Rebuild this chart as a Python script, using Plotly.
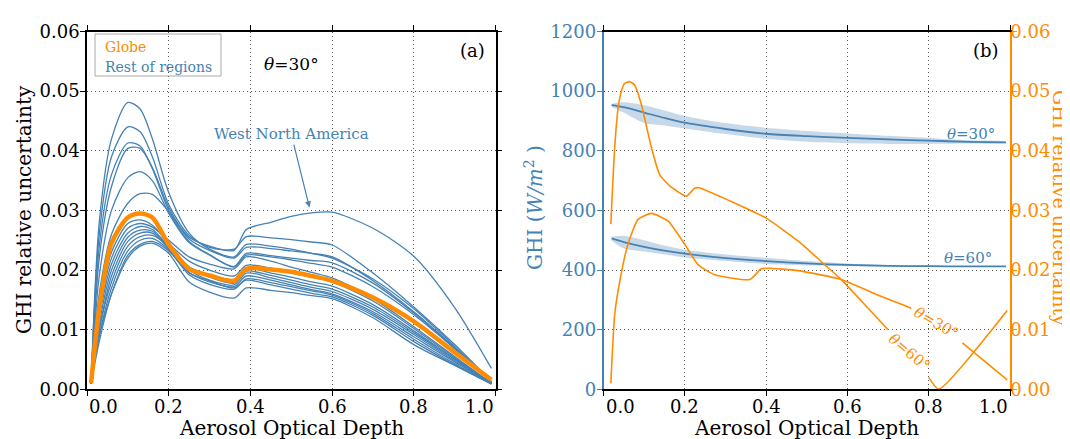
import plotly.graph_objects as go

# ---------------- data ----------------
# Panel (a): GHI relative uncertainty vs AOD, theta = 30 deg
aod_a = [0.01, 0.03, 0.06, 0.1, 0.13, 0.16, 0.2, 0.25, 0.3, 0.36, 0.39, 0.45, 0.5, 0.55, 0.6, 0.7, 0.8, 0.9, 0.99]

globe_unc = [0.001, 0.0135, 0.0245, 0.0288, 0.0295, 0.0288, 0.0243, 0.0202, 0.0191, 0.0182, 0.0202, 0.0201,
             0.0197, 0.0190, 0.0182, 0.0154, 0.0114, 0.0062, 0.0016]

region_b1 = [0.001, 0.028, 0.042, 0.0481, 0.0470, 0.0420, 0.0330, 0.0262, 0.0235, 0.0222, 0.0243, 0.0240,
             0.0235, 0.0228, 0.0220, 0.0185, 0.0135, 0.0072, 0.0012]
region_b2 = [0.001, 0.026, 0.039, 0.0440, 0.0432, 0.0390, 0.0310, 0.0258, 0.0238, 0.0235, 0.0256, 0.0254,
             0.0251, 0.0247, 0.0242, 0.0195, 0.0138, 0.0075, 0.0013]
region_b3 = [0.001, 0.024, 0.036, 0.0413, 0.0408, 0.0370, 0.0300, 0.0248, 0.0226, 0.0205, 0.0225, 0.0222,
             0.0217, 0.0211, 0.0205, 0.0172, 0.0125, 0.0068, 0.0012]
region_b4 = [0.001, 0.022, 0.034, 0.0404, 0.0404, 0.0372, 0.0305, 0.0252, 0.0233, 0.0220, 0.0238, 0.0236,
             0.0232, 0.0228, 0.0222, 0.0182, 0.0130, 0.0070, 0.0012]
region_b5 = [0.001, 0.019, 0.030, 0.0355, 0.0365, 0.0350, 0.0295, 0.0246, 0.0225, 0.0206, 0.0228, 0.0224,
             0.0220, 0.0216, 0.0212, 0.0178, 0.0128, 0.0069, 0.0012]
region_wna = [0.001, 0.016, 0.026, 0.0312, 0.0328, 0.0327, 0.0298, 0.0255, 0.0240, 0.0233, 0.0268, 0.0280,
              0.0290, 0.0296, 0.0297, 0.0270, 0.0223, 0.0137, 0.0035]
region_l1 = [0.001, 0.014, 0.023, 0.0278, 0.0284, 0.0275, 0.0245, 0.0215, 0.0200, 0.0190, 0.0208, 0.0203,
             0.0195, 0.0188, 0.0180, 0.0148, 0.0102, 0.0053, 0.0010]
region_l2 = [0.001, 0.013, 0.022, 0.0270, 0.0278, 0.0272, 0.0250, 0.0222, 0.0210, 0.0202, 0.0222, 0.0215,
             0.0205, 0.0196, 0.0187, 0.0152, 0.0105, 0.0055, 0.0010]
region_l3 = [0.001, 0.012, 0.021, 0.0262, 0.0273, 0.0268, 0.0240, 0.0205, 0.0188, 0.0178, 0.0198, 0.0191,
             0.0183, 0.0175, 0.0168, 0.0138, 0.0095, 0.0050, 0.0010]
region_l4 = [0.001, 0.011, 0.020, 0.0255, 0.0267, 0.0265, 0.0238, 0.0200, 0.0183, 0.0175, 0.0195, 0.0187,
             0.0179, 0.0171, 0.0164, 0.0134, 0.0092, 0.0048, 0.0010]
region_l5 = [0.001, 0.010, 0.019, 0.0248, 0.0262, 0.0262, 0.0236, 0.0196, 0.0180, 0.0172, 0.0190, 0.0183,
             0.0175, 0.0167, 0.0160, 0.0130, 0.0088, 0.0046, 0.0010]
region_l6 = [0.001, 0.010, 0.018, 0.0240, 0.0256, 0.0258, 0.0240, 0.0205, 0.0192, 0.0184, 0.0203, 0.0195,
             0.0188, 0.0180, 0.0173, 0.0142, 0.0098, 0.0051, 0.0010]
region_l7 = [0.001, 0.009, 0.017, 0.0232, 0.0250, 0.0253, 0.0234, 0.0192, 0.0176, 0.0168, 0.0185, 0.0179,
             0.0172, 0.0165, 0.0158, 0.0127, 0.0084, 0.0043, 0.0009]
region_l8 = [0.001, 0.009, 0.016, 0.0225, 0.0243, 0.0248, 0.0232, 0.0195, 0.0182, 0.0170, 0.0183, 0.0175,
             0.0168, 0.0161, 0.0155, 0.0124, 0.0080, 0.0041, 0.0009]
region_l9 = [0.001, 0.008, 0.016, 0.0220, 0.0240, 0.0245, 0.0228, 0.0180, 0.0163, 0.0153, 0.0170, 0.0166,
             0.0162, 0.0157, 0.0152, 0.0120, 0.0075, 0.0040, 0.0009]

regions = [region_b1, region_b2, region_b3, region_b4, region_b5, region_wna,
           region_l1, region_l2, region_l3, region_l4, region_l5, region_l6, region_l7, region_l8, region_l9]

# Panel (b): GHI (W/m2) with uncertainty band, and relative uncertainty
aod_b = [0.02, 0.05, 0.1, 0.15, 0.2, 0.3, 0.4, 0.5, 0.6, 0.7, 0.8, 0.9, 0.99]
ghi_30 = [953, 946, 928, 910, 894, 873, 857, 849, 843, 838, 834, 830, 828]
ghi_30_hi = [958, 963, 953, 935, 917, 893, 877, 866, 858, 850, 843, 835, 830]
ghi_30_lo = [948, 928, 893, 885, 875, 856, 840, 830, 825, 823, 823, 824, 826]
ghi_60 = [506, 494, 478, 465, 455, 440, 430, 422, 417, 414, 413, 412, 412]
ghi_60_hi = [512, 515, 500, 482, 468, 452, 441, 430, 422, 417, 414, 413, 412]
ghi_60_lo = [498, 472, 462, 452, 442, 430, 420, 415, 413, 412, 412, 411, 411]

aod_unc60 = [0.018, 0.0275, 0.036, 0.044, 0.052, 0.064, 0.077, 0.093, 0.118, 0.138, 0.163, 0.204, 0.224,
             0.235, 0.314, 0.40, 0.48, 0.544, 0.585, 0.651, 0.700, 0.75, 0.80, 0.825, 0.993]
unc_60 = [0.0277, 0.0405, 0.0472, 0.0500, 0.0513, 0.0516, 0.0510, 0.0478, 0.0405, 0.0360, 0.0341, 0.0324,
          0.0337, 0.0338, 0.0315, 0.0287, 0.0248, 0.0209, 0.0184, 0.0136, 0.0100, None, 0.0020, 0.0000, 0.0132]

aod_unc30 = [0.018, 0.0275, 0.040, 0.060, 0.085, 0.118, 0.159, 0.20, 0.2325, 0.2735, 0.36, 0.388, 0.405,
             0.4785, 0.585, 0.675, 0.757, 0.82, 0.883, 0.993]
unc_30 = [0.001, 0.0125, 0.0181, 0.0243, 0.0285, 0.0295, 0.0282, 0.0243, 0.0209, 0.0192, 0.0184, 0.0202,
          0.0203, 0.0199, 0.0184, 0.0158, 0.0136, None, 0.0078, 0.0016]

x_ticks = [0.0, 0.2, 0.4, 0.6, 0.8, 1.0]
x_tick_labels = ["0.0", "0.2", "0.4", "0.6", "0.8", "1.0"]

# ---------------- style ----------------
BLUE = "#4682B4"
ORANGE = "#FF8C00"
BAND = "rgba(70,130,180,0.30)"
FONT = "DejaVu Serif"
W, H = 1070, 439

def px_x(p):
    return p / W

def px_y(p):
    return (H - p) / H

fig = go.Figure()

# Panel (a)
for reg in regions:
    fig.add_trace(go.Scatter(x=aod_a, y=reg, mode="lines", line=dict(color=BLUE, width=1.3, shape="spline", smoothing=0.8),
                             xaxis="x", yaxis="y", showlegend=False, hoverinfo="skip"))
fig.add_trace(go.Scatter(x=aod_a, y=globe_unc, mode="lines", line=dict(color=ORANGE, width=4.5, shape="spline", smoothing=0.8),
                         xaxis="x", yaxis="y", showlegend=False))

# Panel (b) bands
for xs, hi, lo in [(aod_b, ghi_30_hi, ghi_30_lo), (aod_b, ghi_60_hi, ghi_60_lo)]:
    fig.add_trace(go.Scatter(x=xs + xs[::-1], y=hi + lo[::-1], fill="toself", fillcolor=BAND,
                             line=dict(width=0, shape="spline", smoothing=0.8), mode="lines",
                             xaxis="x2", yaxis="y3", showlegend=False, hoverinfo="skip"))
for g in [ghi_30, ghi_60]:
    fig.add_trace(go.Scatter(x=aod_b, y=g, mode="lines", line=dict(color=BLUE, width=1.8, shape="spline", smoothing=0.8),
                             xaxis="x2", yaxis="y3", showlegend=False))
for xs, u in [(aod_unc60, unc_60), (aod_unc30, unc_30)]:
    fig.add_trace(go.Scatter(x=xs, y=u, mode="lines", connectgaps=False,
                             line=dict(color=ORANGE, width=1.6, shape="spline", smoothing=0.5),
                             xaxis="x2", yaxis="y4", showlegend=False))

TICK = 18
ax_font = dict(family=FONT, size=TICK, color="black")
grid = dict(showgrid=True, gridcolor="#555555", griddash="1px,3px", gridwidth=1)

dom_a = [px_x(79), px_x(487.5)]
dom_b = [px_x(595.5), px_x(1002)]
dom_y = [px_y(381.3), px_y(23.5)]

fig.update_layout(
    width=W, height=H, margin=dict(l=0, r=0, t=0, b=0),
    paper_bgcolor="white", plot_bgcolor="white",
    font=dict(family=FONT, size=16, color="black"),
    xaxis=dict(domain=dom_a, range=[0, 1], tickvals=x_ticks, showticklabels=False, ticks="outside", ticklen=5,
               showline=True, linecolor="black", linewidth=1.5, mirror="ticks", tickcolor="black",
               zeroline=False, automargin=False, anchor="y", **grid),
    yaxis=dict(domain=dom_y, range=[0, 0.06], tickvals=[0, 0.01, 0.02, 0.03, 0.04, 0.05, 0.06],
               tickformat=".2f", ticks="outside", ticklen=5, tickfont=ax_font, ticklabelstandoff=-3,
               showline=True, linecolor="black", linewidth=1.5, mirror="ticks", tickcolor="black",
               zeroline=False, automargin=False, anchor="x", **grid),
    xaxis2=dict(domain=dom_b, range=[0, 1], tickvals=x_ticks, showticklabels=False, ticks="outside", ticklen=5,
                showline=True, linecolor="black", linewidth=1.5, mirror="ticks", tickcolor="black",
                zeroline=False, automargin=False, anchor="y3", **grid),
    yaxis3=dict(domain=dom_y, range=[0, 1200], tickvals=[0, 200, 400, 600, 800, 1000, 1200],
                ticks="outside", ticklen=5, tickcolor=BLUE, tickfont=dict(family=FONT, size=TICK, color=BLUE),
                ticklabelstandoff=-3,
                showline=True, linecolor=BLUE, linewidth=1.5, zeroline=False, automargin=False,
                anchor="x2", **grid),
    yaxis4=dict(domain=dom_y, range=[0, 0.06], tickvals=[0, 0.01, 0.02, 0.03, 0.04, 0.05, 0.06],
                tickformat=".2f", overlaying="y3", side="right", anchor="x2", ticklabelstandoff=-10,
                ticks="outside", ticklen=5, tickcolor=ORANGE, tickfont=dict(family=FONT, size=TICK, color=ORANGE),
                showline=True, linecolor=ORANGE, linewidth=1.5, showgrid=False, zeroline=False, automargin=False),
)

ann = []
# x tick labels (end labels kept inside the axis span as in the reference)
for xr in ["x", "x2"]:
    for i, (v, t) in enumerate(zip(x_ticks, x_tick_labels)):
        anchor = "left" if i == 0 else ("right" if i == len(x_ticks) - 1 else "center")
        ann.append(dict(x=v, y=px_y(398.5), xref=xr, yref="paper", text=t, showarrow=False,
                        xanchor=anchor, yanchor="middle", font=dict(family=FONT, size=TICK, color="black")))

title_font = dict(family=FONT, size=20, color="black")
ann += [
    dict(x=px_x(283.5), y=px_y(420), xref="paper", yref="paper", text="Aerosol Optical Depth", showarrow=False,
         xanchor="center", yanchor="middle", font=title_font),
    dict(x=px_x(798.7), y=px_y(420), xref="paper", yref="paper", text="Aerosol Optical Depth", showarrow=False,
         xanchor="center", yanchor="middle", font=title_font),
    dict(x=px_x(16), y=px_y(202), xref="paper", yref="paper", text="GHI relative uncertainty", showarrow=False,
         textangle=-90, xanchor="center", yanchor="middle", font=title_font),
    dict(x=px_x(526), y=px_y(200), xref="paper", yref="paper", text="GHI (<i>W/m</i><sup>2</sup> )",
         showarrow=False, textangle=-90, xanchor="center", yanchor="middle",
         font=dict(family=FONT, size=20, color=BLUE)),
    dict(x=px_x(1052), y=px_y(200), xref="paper", yref="paper", text="GHI relative uncertainty",
         showarrow=False, textangle=90, xanchor="center", yanchor="middle",
         font=dict(family=FONT, size=19, color=ORANGE)),
    # panel letters
    dict(x=px_x(479), y=px_y(42), xref="paper", yref="paper", text="(a)", showarrow=False,
         xanchor="right", yanchor="middle", font=dict(family=FONT, size=18, color="black")),
    dict(x=px_x(993), y=px_y(42), xref="paper", yref="paper", text="(b)", showarrow=False,
         xanchor="right", yanchor="middle", font=dict(family=FONT, size=18, color="black")),
    # theta label panel a
    dict(x=px_x(283), y=px_y(56), xref="paper", yref="paper", text="<i>θ</i>=30°", showarrow=False,
         xanchor="center", yanchor="middle", font=dict(family=FONT, size=17, color="black")),
    # legend texts
    dict(x=px_x(95), y=px_y(39.5), xref="paper", yref="paper", text="Globe", showarrow=False,
         xanchor="left", yanchor="middle", font=dict(family=FONT, size=14, color=ORANGE)),
    dict(x=px_x(95), y=px_y(58.5), xref="paper", yref="paper", text="Rest of regions", showarrow=False,
         xanchor="left", yanchor="middle", font=dict(family=FONT, size=14, color=BLUE)),
    # West North America arrow
    dict(x=0.5445, y=0.0305, xref="x", yref="y", ax=0.50, ay=0.0428, axref="x", ayref="y",
         text="West North America", showarrow=True, arrowhead=2, arrowsize=1, arrowwidth=1.2,
         arrowcolor=BLUE, font=dict(family=FONT, size=15, color=BLUE)),
    # panel b line labels
    dict(x=0.903, y=857, xref="x2", yref="y3", text="<i>θ</i>=30°", showarrow=False,
         font=dict(family=FONT, size=15, color=BLUE)),
    dict(x=0.897, y=442, xref="x2", yref="y3", text="<i>θ</i>=60°", showarrow=False,
         font=dict(family=FONT, size=15, color=BLUE)),
    dict(x=0.819, y=0.0111, xref="x2", yref="y4", text="<i>θ</i>=30°", showarrow=False, textangle=30,
         font=dict(family=FONT, size=15, color=ORANGE)),
    dict(x=0.751, y=0.0062, xref="x2", yref="y4", text="<i>θ</i>=60°", showarrow=False, textangle=40,
         font=dict(family=FONT, size=15, color=ORANGE)),
]
fig.update_layout(annotations=ann)

fig.add_shape(type="rect", xref="paper", yref="paper", x0=px_x(87), x1=px_x(213), y0=px_y(68), y1=px_y(26),
              line=dict(color="#aaaaaa", width=1), fillcolor="rgba(255,255,255,0)")

fig.write_html("out.html")
